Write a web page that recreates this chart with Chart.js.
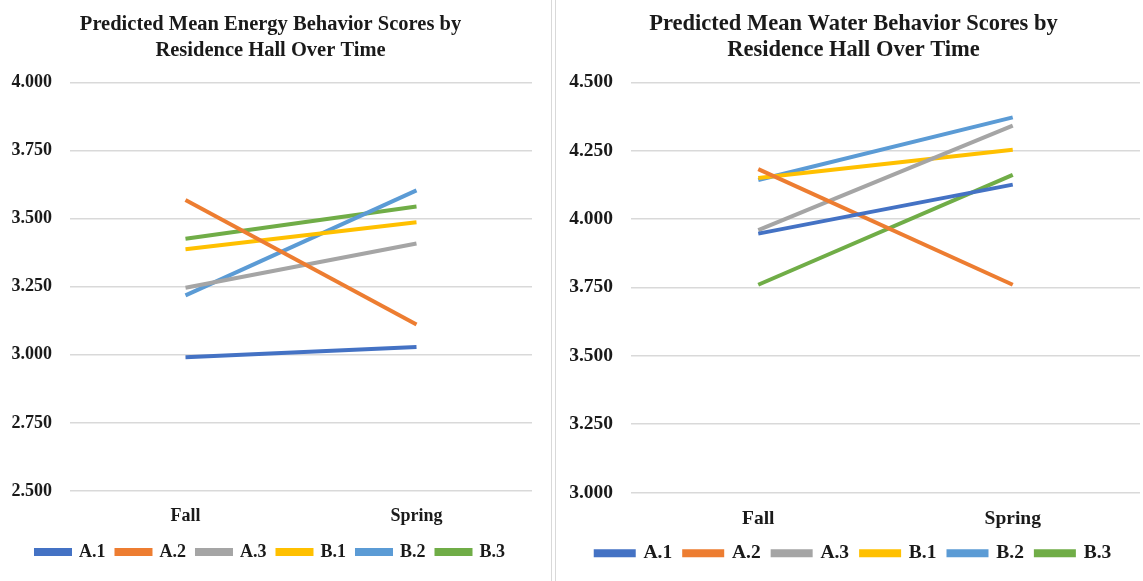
<!DOCTYPE html>
<html>
<head>
<meta charset="utf-8">
<script src="https://cdn.jsdelivr.net/npm/chart.js@4.4.1/dist/chart.umd.min.js"></script>
<style>
  html, body { margin: 0; padding: 0; background: #fff; }
  #wrap { position: relative; width: 1143px; height: 581px; overflow: hidden; }
  .box { position: absolute; top: 0; height: 581px; }
  #left { left: 0; width: 551px; }
  #right { left: 556px; width: 587px; }
  #divider { position: absolute; left: 551px; top: 0; width: 3px; height: 581px;
             border-left: 1px solid #d9d9d9; border-right: 1px solid #d9d9d9; }
</style>
</head>
<body>
<div id="wrap">
  <div class="box" id="left"><canvas id="energyChart"></canvas></div>
  <div id="divider"></div>
  <div class="box" id="right"><canvas id="waterChart"></canvas></div>
</div>
<script>
// categories and series
const seasons = ['Fall', 'Spring']
const halls = ['A.1', 'A.2', 'A.3', 'B.1', 'B.2', 'B.3']
const hallColors = ['#4472C4', '#ED7D31', '#A5A5A5', '#FFC000', '#5B9BD5', '#70AD47']

// energy behavior scores
const energyA1 = [2.991, 3.028]
const energyA2 = [3.568, 3.111]
const energyA3 = [3.246, 3.408]
const energyB1 = [3.387, 3.486]
const energyB2 = [3.218, 3.603]
const energyB3 = [3.426, 3.544]

// water behavior scores
const waterA1 = [3.947, 4.126]
const waterA2 = [4.183, 3.760]
const waterA3 = [3.960, 4.342]
const waterB1 = [4.150, 4.254]
const waterB2 = [4.143, 4.372]
const waterB3 = [3.760, 4.162]

// axis ranges
const energyTicks = { min: 2.5, max: 4.0, step: 0.25 }
const waterTicks = { min: 3.0, max: 4.5, step: 0.25 }

const serif = "'Liberation Serif', 'Times New Roman', serif"

function makeDatasets(series) {
  return series.map((vals, i) => ({
    label: halls[i],
    data: vals,
    borderColor: hallColors[i],
    backgroundColor: hallColors[i],
    borderWidth: 4,
    pointRadius: 0,
    tension: 0
  }))
}

// s = look settings for each panel (the right one is drawn a bit larger)
function makeChart(id, titleLines, series, ticks, s) {
  const ctx = document.getElementById(id).getContext('2d')
  return new Chart(ctx, {
    type: 'line',
    data: {
      labels: seasons,
      datasets: makeDatasets(series)
    },
    options: {
      responsive: false,
      animation: false,
      layout: { padding: s.pad },
      plugins: {
        title: {
          display: true,
          text: titleLines,
          color: '#1a1a1a',
          font: { family: serif, size: s.titleSize, weight: 'bold', lineHeight: s.titleLH },
          padding: { top: 8, bottom: s.titleBottom }
        },
        legend: {
          position: 'bottom',
          labels: {
            color: '#1a1a1a',
            font: { family: serif, size: s.font, weight: 'bold' },
            boxWidth: s.boxW,
            boxHeight: 4,
            padding: s.legendPad
          }
        },
        tooltip: { enabled: false }
      },
      scales: {
        x: {
          offset: true,
          grid: { display: false },
          border: { display: false },
          ticks: {
            color: '#1a1a1a',
            font: { family: serif, size: s.font, weight: 'bold' },
            padding: 7
          },
          afterFit: a => { a.height = s.xH }
        },
        y: {
          min: ticks.min,
          max: ticks.max,
          grid: { color: '#d9d9d9', lineWidth: 1.5, drawTicks: false },
          border: { display: false },
          ticks: {
            stepSize: ticks.step,
            color: '#1a1a1a',
            font: { family: serif, size: s.font, weight: 'bold' },
            padding: 18,
            callback: v => v.toFixed(3)
          },
          afterFit: a => { a.width = s.yW }
        }
      }
    }
  })
}

const leftCanvas = document.getElementById('energyChart')
leftCanvas.width = 551; leftCanvas.height = 581
const rightCanvas = document.getElementById('waterChart')
rightCanvas.width = 587; rightCanvas.height = 581

makeChart('energyChart',
  ['Predicted Mean Energy Behavior Scores by', 'Residence Hall Over Time'],
  [energyA1, energyA2, energyA3, energyB1, energyB2, energyB3],
  energyTicks,
  { pad: { left: 9, right: 19, top: 4, bottom: 10 }, yW: 61, xH: 41,
    titleSize: 20.5, titleLH: 1.25, titleBottom: 19,
    font: 18, boxW: 34, legendPad: 11 })

makeChart('waterChart',
  ['Predicted Mean Water Behavior Scores by', 'Residence Hall Over Time'],
  [waterA1, waterA2, waterA3, waterB1, waterB2, waterB3],
  waterTicks,
  { pad: { left: 11, right: 3, top: 4, bottom: 8 }, yW: 64, xH: 39,
    titleSize: 22.5, titleLH: 1.12, titleBottom: 20,
    font: 19.5, boxW: 38, legendPad: 12 })
</script>
</body>
</html>
